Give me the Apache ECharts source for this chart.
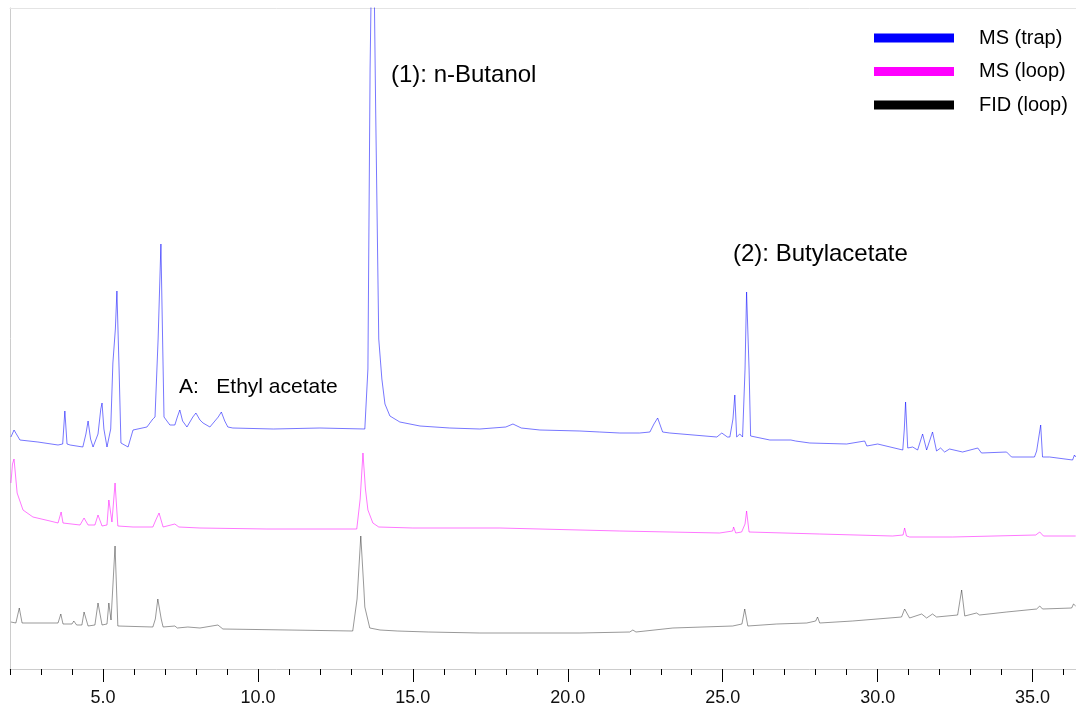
<!DOCTYPE html>
<html>
<head>
<meta charset="utf-8">
<script src="https://cdn.jsdelivr.net/npm/echarts@6/dist/echarts.min.js"></script>
<style>
html,body{margin:0;padding:0;background:#fff;}
#chart{width:1076px;height:706px;}
</style>
</head>
<body>
<div id="chart"></div>
<script>
// Retention time (min) vs. detector signal (arbitrary units, traces stacked as drawn)
const seriesNames = ['MS (trap)', 'MS (loop)', 'FID (loop)'];
const seriesColors = ['#0000ff', '#ff00ff', '#000000'];

const msTrap = [
  [2.03,232],[2.13,239],[2.32,229],[2.9,227],[3.55,224],[3.70,225],[3.77,258],[3.84,225],[3.94,224],
  [4.35,222],[4.45,235],[4.52,248],[4.60,230],[4.68,222],[4.84,235],[4.93,260],[4.97,266],[5.03,240],
  [5.13,222],[5.25,240],[5.32,306],[5.40,340],[5.45,378],[5.52,300],[5.58,226],[5.81,222],[5.97,239],
  [6.42,242],[6.61,250],[6.68,252],[6.78,330],[6.87,425],[6.93,320],[6.97,252],[7.16,244],[7.32,244],
  [7.40,252],[7.48,259],[7.57,248],[7.71,242],[7.90,252],[8.0,256],[8.13,249],[8.23,246],[8.45,242],
  [8.72,252],[8.82,257],[8.93,248],[9.03,242],[9.19,241],[10.5,240],[12.0,241],[13.45,240],[13.55,300],
  [13.62,600],[13.71,800],[13.80,560],[13.90,330],[14.0,290],[14.1,265],[14.26,253],[14.58,247],
  [15.23,243],[16.19,241],[17.16,240],[18.0,242],[18.23,245],[18.5,241],[19.1,239],[20.39,238],
  [21.03,237],[21.68,236],[22.32,236],[22.65,237],[22.78,245],[22.9,251],[23.06,237],[23.29,236],
  [24.81,232],[24.97,236],[25.15,232],[25.23,232],[25.33,250],[25.39,274],[25.45,232],[25.55,235],
  [25.64,232],[25.72,300],[25.77,377],[25.85,300],[25.9,233],[26.52,229],[27.2,229],[27.26,231],
  [27.35,228],[27.81,226],[29.0,225],[29.58,228],[29.65,223],[30.0,225],[30.81,219],[30.86,240],
  [30.9,267],[30.97,221],[31.13,222],[31.29,219],[31.45,235],[31.58,219],[31.77,237],[31.9,218],
  [32.03,221],[32.16,217],[32.32,220],[32.74,217],[33.23,221],[33.35,216],[34.16,217],[34.32,212],
  [35.06,212],[35.13,218],[35.26,244],[35.32,212],[35.55,212],[36.29,209],[36.35,214],[36.39,212]
];

const msLoop = [
  [2.03,186],[2.08,205],[2.13,210],[2.23,176],[2.42,159],[2.74,152],[3.29,148],[3.55,146],[3.65,157],
  [3.71,146],[4.26,144],[4.39,151],[4.52,144],[4.74,144],[4.84,154],[4.97,143],[5.13,144],[5.19,169],
  [5.29,147],[5.39,186],[5.48,143],[5.97,142],[6.61,142],[6.72,150],[6.81,156],[6.94,142],[7.32,145],
  [7.45,142],[8.13,141],[10.29,140],[13.19,140],[13.30,170],[13.39,216],[13.47,180],[13.55,159],
  [13.71,146],[13.9,142],[15.0,141],[17.81,141],[21.68,138],[24.9,136],[25.32,138],[25.35,142],
  [25.42,136],[25.61,137],[25.72,145],[25.77,158],[25.85,137],[28.13,135],[30.48,133],[30.82,134],
  [30.87,141],[30.93,133],[31.03,132],[32.42,132],[35.1,134],[35.23,137],[35.35,133],[36.39,133]
];

const fidLoop = [
  [2.03,47],[2.19,46],[2.3,61],[2.39,46],[3.55,46],[3.64,55],[3.71,45],[4.0,45],[4.06,48],[4.15,44],
  [4.32,44],[4.39,57],[4.52,43],[4.74,44],[4.84,66],[4.97,44],[5.13,45],[5.19,66],[5.26,49],[5.39,123],
  [5.48,43],[6.61,42],[6.69,50],[6.77,70],[6.88,50],[6.94,42],[7.32,43],[7.40,41],[7.74,42],[8.13,41],
  [8.71,44],[8.87,40],[11.0,39],[13.06,38],[13.2,70],[13.32,133],[13.42,80],[13.45,62],[13.61,41],
  [13.94,39],[14.5,38],[15.5,37],[17.16,36],[20.39,36],[22.0,37],[22.1,39],[22.2,37],[23.39,41],
  [25.32,43],[25.62,45],[25.71,60],[25.81,43],[26.74,45],[27.71,46],[28.0,48],[28.06,52],[28.13,46],
  [29.19,48],[30.77,52],[30.87,60],[31.03,51],[31.42,55],[31.58,51],[31.77,55],[31.9,52],[32.58,54],
  [32.71,79],[32.81,53],[33.19,56],[33.29,54],[34.16,57],[35.13,60],[35.23,63],[35.32,60],[36.26,61],
  [36.32,65],[36.39,63]
];

const minorTicks = [2,3,4,5,6,7,8,9,10,11,12,13,14,15,16,17,18,19,20,21,22,23,24,25,26,27,28,29,30,31,32,33,34,35,36];
const majorTicks = [5,10,15,20,25,30,35];

const annotations = [
  { text: '(1): n-Butanol', left: 391, y: 75, size: 24 },
  { text: '(2): Butylacetate', left: 733, y: 254, size: 24 },
  { text: 'A:   Ethyl acetate', left: 179, y: 387, size: 21 }
];

const FONT = '"Liberation Sans", Arial, sans-serif';
const X_MIN = 2, X_MAX = 36.4;

const chart = echarts.init(document.getElementById('chart'), null, { renderer: 'canvas' });

const traces = [msTrap, msLoop, fidLoop];
const opacities = [0.6, 0.6, 0.45];

const option = {
  animation: false,
  backgroundColor: '#ffffff',
  grid: { left: 10, right: 0, top: 8, bottom: 37, containLabel: false, outerBoundsMode: 'none' },
  legend: {
    orient: 'vertical',
    left: 869,
    top: 23,
    icon: 'rect',
    itemWidth: 80,
    itemHeight: 9,
    itemGap: 13.5,
    textStyle: { fontFamily: FONT, fontSize: 20, color: '#000', padding: [0, 0, 0, 20] },
    data: seriesNames.map((n, i) => ({ name: n, itemStyle: { color: seriesColors[i], opacity: 1 } }))
  },
  xAxis: [
    {
      type: 'value', min: X_MIN, max: X_MAX, position: 'bottom',
      axisLine: { show: true, lineStyle: { color: '#cccccc', width: 1 } },
      axisTick: { show: true, customValues: minorTicks, length: 6, lineStyle: { color: '#000', width: 1 } },
      axisLabel: { show: false },
      splitLine: { show: false }
    },
    {
      type: 'value', min: X_MIN, max: X_MAX, position: 'bottom',
      axisLine: { show: false },
      axisTick: { show: true, customValues: majorTicks, length: 13, lineStyle: { color: '#000', width: 1 } },
      axisLabel: {
        show: true, customValues: majorTicks, margin: 20,
        fontFamily: FONT, fontSize: 18, color: '#111',
        formatter: v => v.toFixed(1)
      },
      splitLine: { show: false }
    },
    {
      type: 'value', min: X_MIN, max: X_MAX, position: 'top',
      axisLine: { show: true, lineStyle: { color: '#e4e4e4', width: 1 } },
      axisTick: { show: false }, axisLabel: { show: false }, splitLine: { show: false }
    }
  ],
  yAxis: {
    type: 'value', min: 0, max: 661,
    axisLine: { show: true, lineStyle: { color: '#cccccc', width: 1 } },
    axisTick: { show: false }, axisLabel: { show: false }, splitLine: { show: false }
  },
  series: seriesNames.map((n, i) => ({
    name: n,
    type: 'line',
    xAxisIndex: 0,
    data: traces[i],
    showSymbol: false,
    symbol: 'none',
    clip: true,
    color: seriesColors[i],
    lineStyle: { color: seriesColors[i], width: 0.9, opacity: opacities[i] },
    z: 3 - i
  })),
  graphic: annotations.map(a => ({
    type: 'text',
    left: a.left,
    top: a.y - a.size / 2,
    style: { text: a.text, font: a.size + 'px ' + FONT, fill: '#000' }
  }))
};

chart.setOption(option);
</script>
</body>
</html>
